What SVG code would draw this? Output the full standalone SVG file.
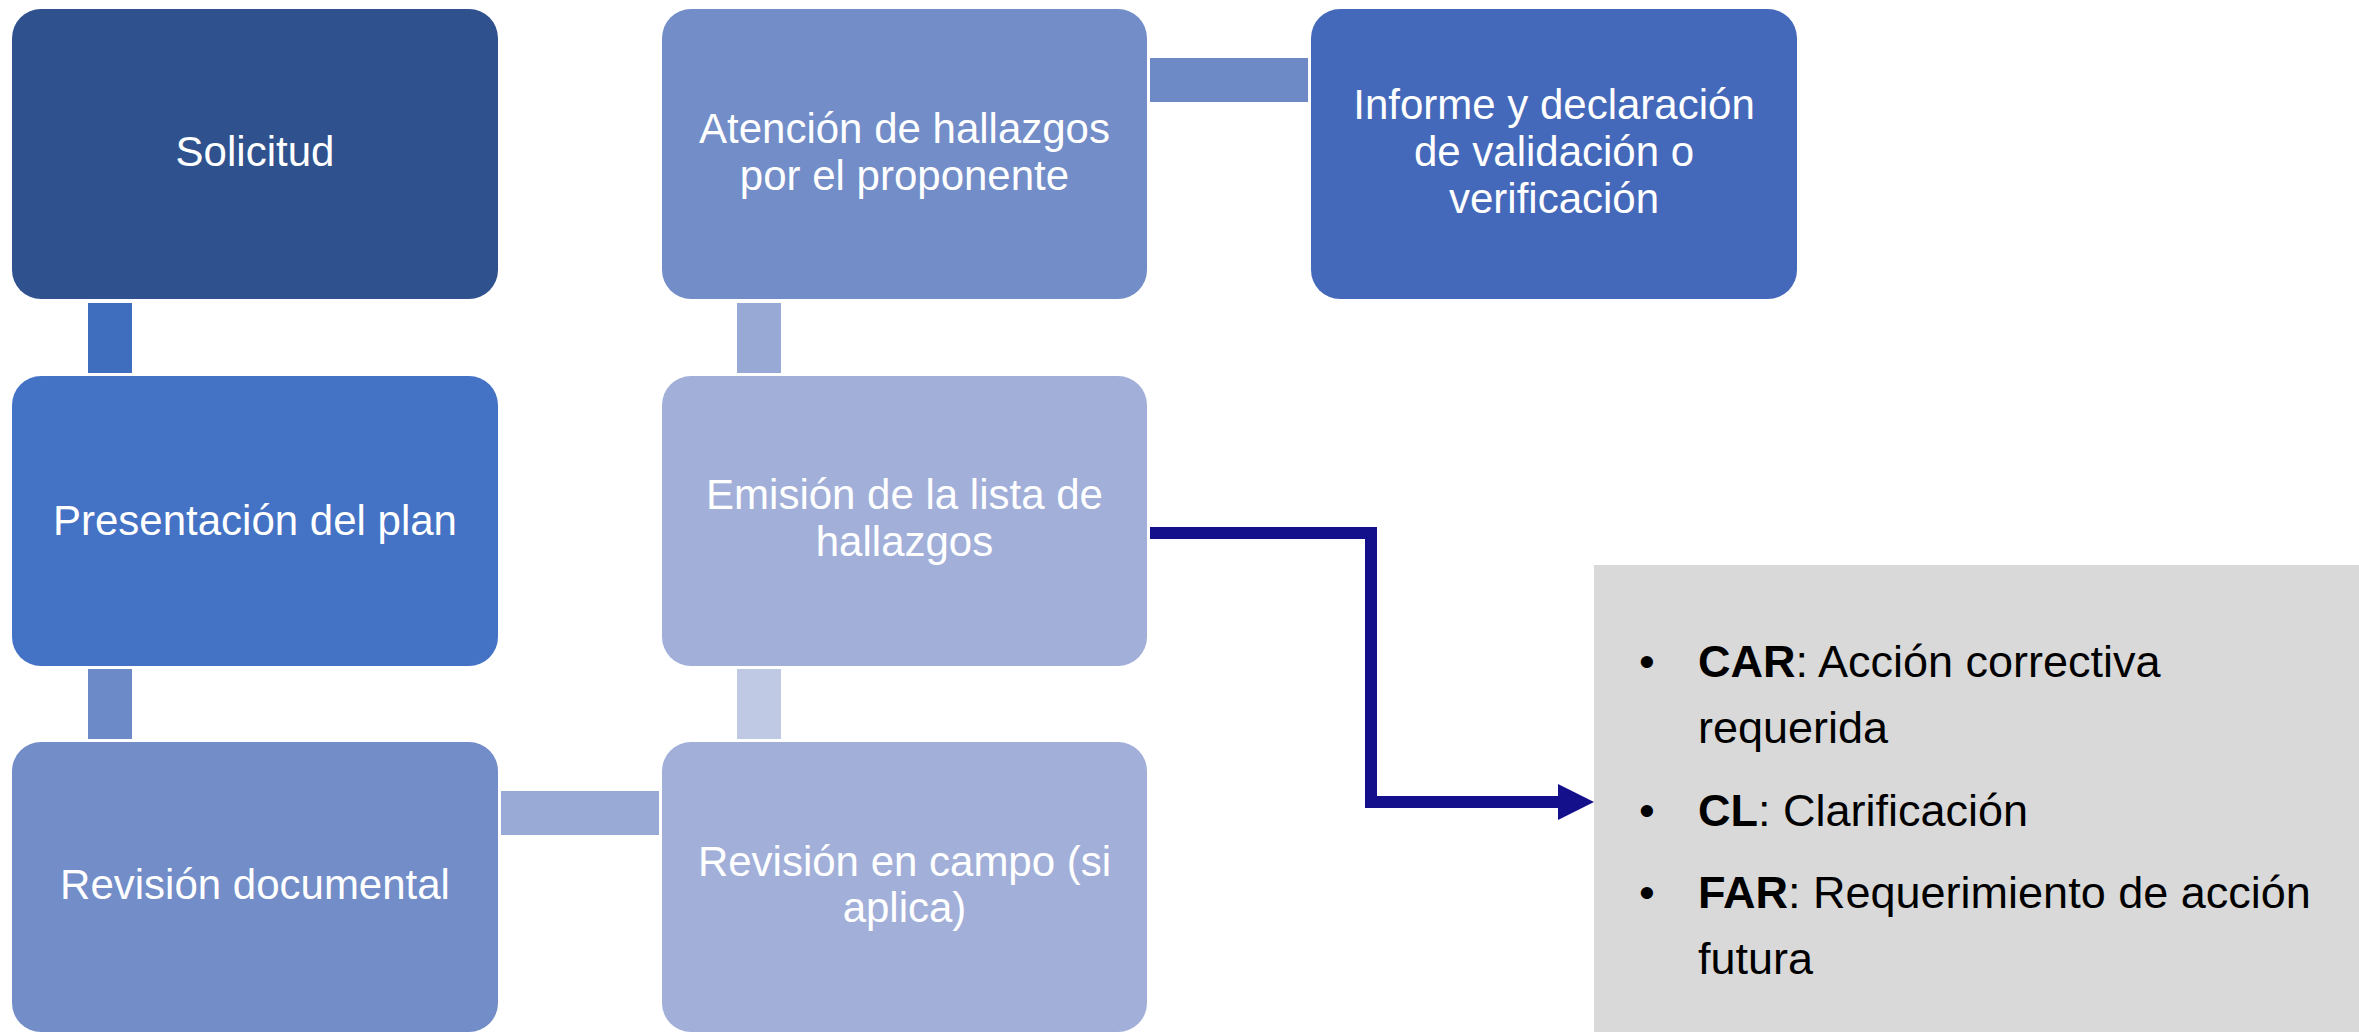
<svg xmlns="http://www.w3.org/2000/svg" width="2359" height="1032" viewBox="0 0 2359 1032">
<style>
.box{stroke:none}
.lbl{font-family:"Liberation Sans",Arial,sans-serif;font-size:42px;fill:#ffffff;text-anchor:middle}
.note{font-family:"Liberation Sans",Arial,sans-serif;font-size:45px;fill:#000000}
.b{font-weight:bold}
</style>
<defs>
<marker id="ah" markerWidth="3" markerHeight="3" refX="0" refY="1.5" orient="auto" markerUnits="strokeWidth">
<path d="M0,0 L3,1.5 L0,3 Z" fill="#140F8B"/>
</marker>
</defs>
<rect width="2359" height="1032" fill="#ffffff"/>
<g id="connectors">
<rect x="88" y="303" width="44" height="70" fill="#3F6EBF"/>
<rect x="88" y="669" width="44" height="70" fill="#6C8AC7"/>
<rect x="501" y="791" width="158" height="44" fill="#98AAD5"/>
<rect x="737" y="669" width="44" height="70" fill="#BFC9E4"/>
<rect x="737" y="303" width="44" height="70" fill="#98A9D5"/>
<rect x="1150" y="58" width="158" height="44" fill="#6D8AC6"/>
<path d="M1150,533 H1371 V802 H1560" fill="none" stroke="#140F8B" stroke-width="12"/>
<polygon points="1558,784 1594,802 1558,820" fill="#140F8B"/>
</g>
<g id="n-solicitud">
<rect class="box" x="12" y="9" width="486" height="290" rx="29" fill="#2F528F"/>
<text class="lbl" x="255" y="166">Solicitud</text>
</g>
<g id="n-presentacion">
<rect class="box" x="12" y="376" width="486" height="290" rx="29" fill="#4472C4"/>
<text class="lbl" x="255" y="535">Presentación del plan</text>
</g>
<g id="n-revdoc">
<rect class="box" x="12" y="742" width="486" height="290" rx="29" fill="#728DC8"/>
<text class="lbl" x="255" y="899">Revisión documental</text>
</g>
<g id="n-revcampo">
<rect class="box" x="662" y="742" width="485" height="290" rx="29" fill="#A2B0D9"/>
<text class="lbl" x="904.5" y="876">Revisión en campo (si</text>
<text class="lbl" x="904.5" y="922">aplica)</text>
</g>
<g id="n-emision">
<rect class="box" x="662" y="376" width="485" height="290" rx="29" fill="#A2B0D9"/>
<text class="lbl" x="904.5" y="509">Emisión de la lista de</text>
<text class="lbl" x="904.5" y="556">hallazgos</text>
</g>
<g id="n-atencion">
<rect class="box" x="662" y="9" width="485" height="290" rx="29" fill="#728DC8"/>
<text class="lbl" x="904.5" y="143">Atención de hallazgos</text>
<text class="lbl" x="904.5" y="190">por el proponente</text>
</g>
<g id="n-informe">
<rect class="box" x="1311" y="9" width="486" height="290" rx="29" fill="#4569BA"/>
<text class="lbl" x="1554" y="119">Informe y declaración</text>
<text class="lbl" x="1554" y="166">de validación o</text>
<text class="lbl" x="1554" y="213">verificación</text>
</g>
<g id="n-hallazgos">
<rect x="1594" y="565" width="765" height="467" fill="#D9D9D9"/>
<text class="note" x="1639" y="677">•</text>
<text class="note" x="1698" y="677"><tspan class="b">CAR</tspan>: Acción correctiva</text>
<text class="note" x="1698" y="743">requerida</text>
<text class="note" x="1639" y="826">•</text>
<text class="note" x="1698" y="826"><tspan class="b">CL</tspan>: Clarificación</text>
<text class="note" x="1639" y="908">•</text>
<text class="note" x="1698" y="908"><tspan class="b">FAR</tspan>: Requerimiento de acción</text>
<text class="note" x="1698" y="974">futura</text>
</g>
</svg>
